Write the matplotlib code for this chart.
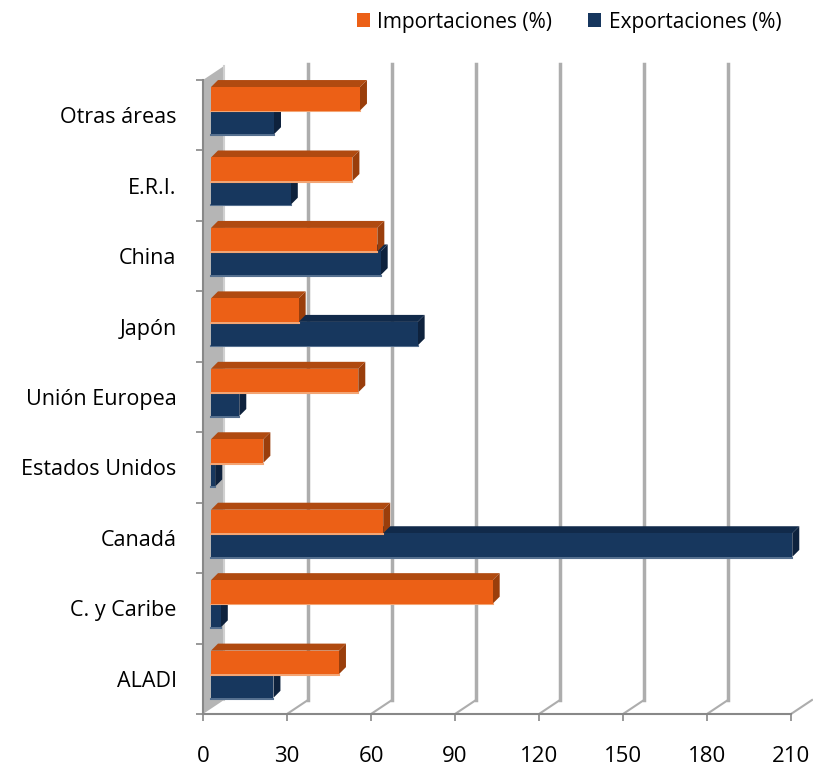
import matplotlib
matplotlib.use('Agg')
import matplotlib.pyplot as plt
from matplotlib.patches import Polygon, Rectangle, Patch
from matplotlib.lines import Line2D

# ---- data ----
categories = ['ALADI', 'C. y Caribe', 'Canadá', 'Estados Unidos', 'Unión Europea',
              'Japón', 'China', 'E.R.I.', 'Otras áreas']
importaciones = [45.7, 100.6, 61.5, 18.7, 52.6, 31.3, 59.4, 50.5, 53.2]
exportaciones = [22.3, 3.5, 207.6, 1.5, 10.1, 73.8, 60.6, 28.5, 22.5]
xticks = [0, 30, 60, 90, 120, 150, 180, 210]
series_labels = ['Importaciones (%)', 'Exportaciones (%)']

# ---- style ----
FONT = ['Open Sans', 'DejaVu Sans']
plt.rcParams['font.family'] = FONT
imp_c = dict(front='#EC6016', top='#B04A10', side='#9A3E0B', edge='#F3A574')
exp_c = dict(front='#17375E', top='#112A4A', side='#0E223D', edge='#56708F')
grid_c = '#ADADAD'
axis_c = '#888888'

W, H = 813, 768
fig = plt.figure(figsize=(W / 100, H / 100), dpi=100)
L, R, B, T = 203, 791, 714, 80
ax = fig.add_axes([L / W, (H - B) / H, (R - L) / W, (B - T) / H])
XMAX = xticks[-1]
ax.set_xlim(0, XMAX)
ax.set_ylim(-0.5, len(categories) - 0.5)

px_x = XMAX / (R - L)              # data units per pixel (x)
px_y = len(categories) / (B - T)   # data units per pixel (y)

# depth offsets (pixels)
WALL_DX, WALL_DY = 21, 14
BAR_DX, BAR_DY = 7, 7
BAR_X0 = 8

ylo, yhi = -0.5, len(categories) - 0.5

# left wall
wall = Polygon([(0, ylo), (WALL_DX * px_x, ylo + WALL_DY * px_y),
                (WALL_DX * px_x, yhi + WALL_DY * px_y), (0, yhi)],
               closed=True, facecolor='#B5B5B5', edgecolor='none', zorder=1, clip_on=False)
ax.add_patch(wall)
ax.add_line(Line2D([WALL_DX * px_x, WALL_DX * px_x],
                   [ylo + WALL_DY * px_y, yhi + WALL_DY * px_y],
                   color='#D0D0D0', lw=1.5, zorder=1.1, clip_on=False))

# gridlines on back wall + floor diagonals
for v in xticks[1:]:
    ax.add_line(Line2D([v, v + WALL_DX * px_x], [ylo, ylo + WALL_DY * px_y],
                       color=grid_c, lw=1.5, zorder=1, clip_on=False))
    if v < XMAX:
        ax.add_line(Line2D([v + WALL_DX * px_x] * 2,
                           [ylo + WALL_DY * px_y, yhi + WALL_DY * px_y + 2 * px_y],
                           color=grid_c, lw=2.5, zorder=1, clip_on=False))


def draw_bar(y0, y1, v, c, z):
    x0 = BAR_X0 * px_x
    x1 = x0 + v
    dx, dy = BAR_DX * px_x, BAR_DY * px_y
    top = Polygon([(x0, y1), (x1, y1), (x1 + dx, y1 + dy), (x0 + dx, y1 + dy)],
                  closed=True, facecolor=c['top'], edgecolor='none', zorder=z, clip_on=False)
    side = Polygon([(x1, y0), (x1 + dx, y0 + dy), (x1 + dx, y1 + dy), (x1, y1)],
                   closed=True, facecolor=c['side'], edgecolor='none', zorder=z, clip_on=False)
    front = Rectangle((x0, y0), v, y1 - y0, facecolor=c['front'], edgecolor='none',
                      zorder=z + 0.1, clip_on=False)
    for p in (top, side, front):
        ax.add_patch(p)
    ax.add_line(Line2D([x0, x1], [y0 - 0.8 * px_y] * 2, color=c['edge'], lw=1.5,
                       zorder=z + 0.05, clip_on=False))


for i, (imp, exp) in enumerate(zip(importaciones, exportaciones)):
    draw_bar(i - 0.27, i + 0.066, exp, exp_c, 3 + i * 0.5)
    draw_bar(i + 0.066, i + 0.40, imp, imp_c, 3.2 + i * 0.5)

# axes / ticks
for s in ['top', 'right']:
    ax.spines[s].set_visible(False)
for s in ['left', 'bottom']:
    ax.spines[s].set_color(axis_c)
    ax.spines[s].set_linewidth(1.5)
    ax.spines[s].set_zorder(2)

ax.set_xticks(xticks)
ax.set_xticklabels([str(t) for t in xticks])
ax.tick_params(axis='x', length=5, width=1.2, color=axis_c, pad=18, labelsize=16,
               labelcolor='black')

ax.set_yticks(range(len(categories)))
ax.set_yticklabels(categories)
ax.tick_params(axis='y', which='major', length=0, pad=19, labelsize=15.5, labelcolor='black')
ax.set_yticks([k - 0.5 for k in range(len(categories) + 1)], minor=True)
ax.tick_params(axis='y', which='minor', length=5, width=1.2, color=axis_c)

handles = [Patch(facecolor=imp_c['front']), Patch(facecolor=exp_c['front'])]
fig.legend(handles, series_labels, loc='upper right', bbox_to_anchor=(800 / W, 1 + 7 / H),
           ncol=2, frameon=False, fontsize=15, handlelength=0.65, handleheight=0.65,
           handletextpad=0.35, columnspacing=1.7)

fig.savefig('out.png', dpi=100)
